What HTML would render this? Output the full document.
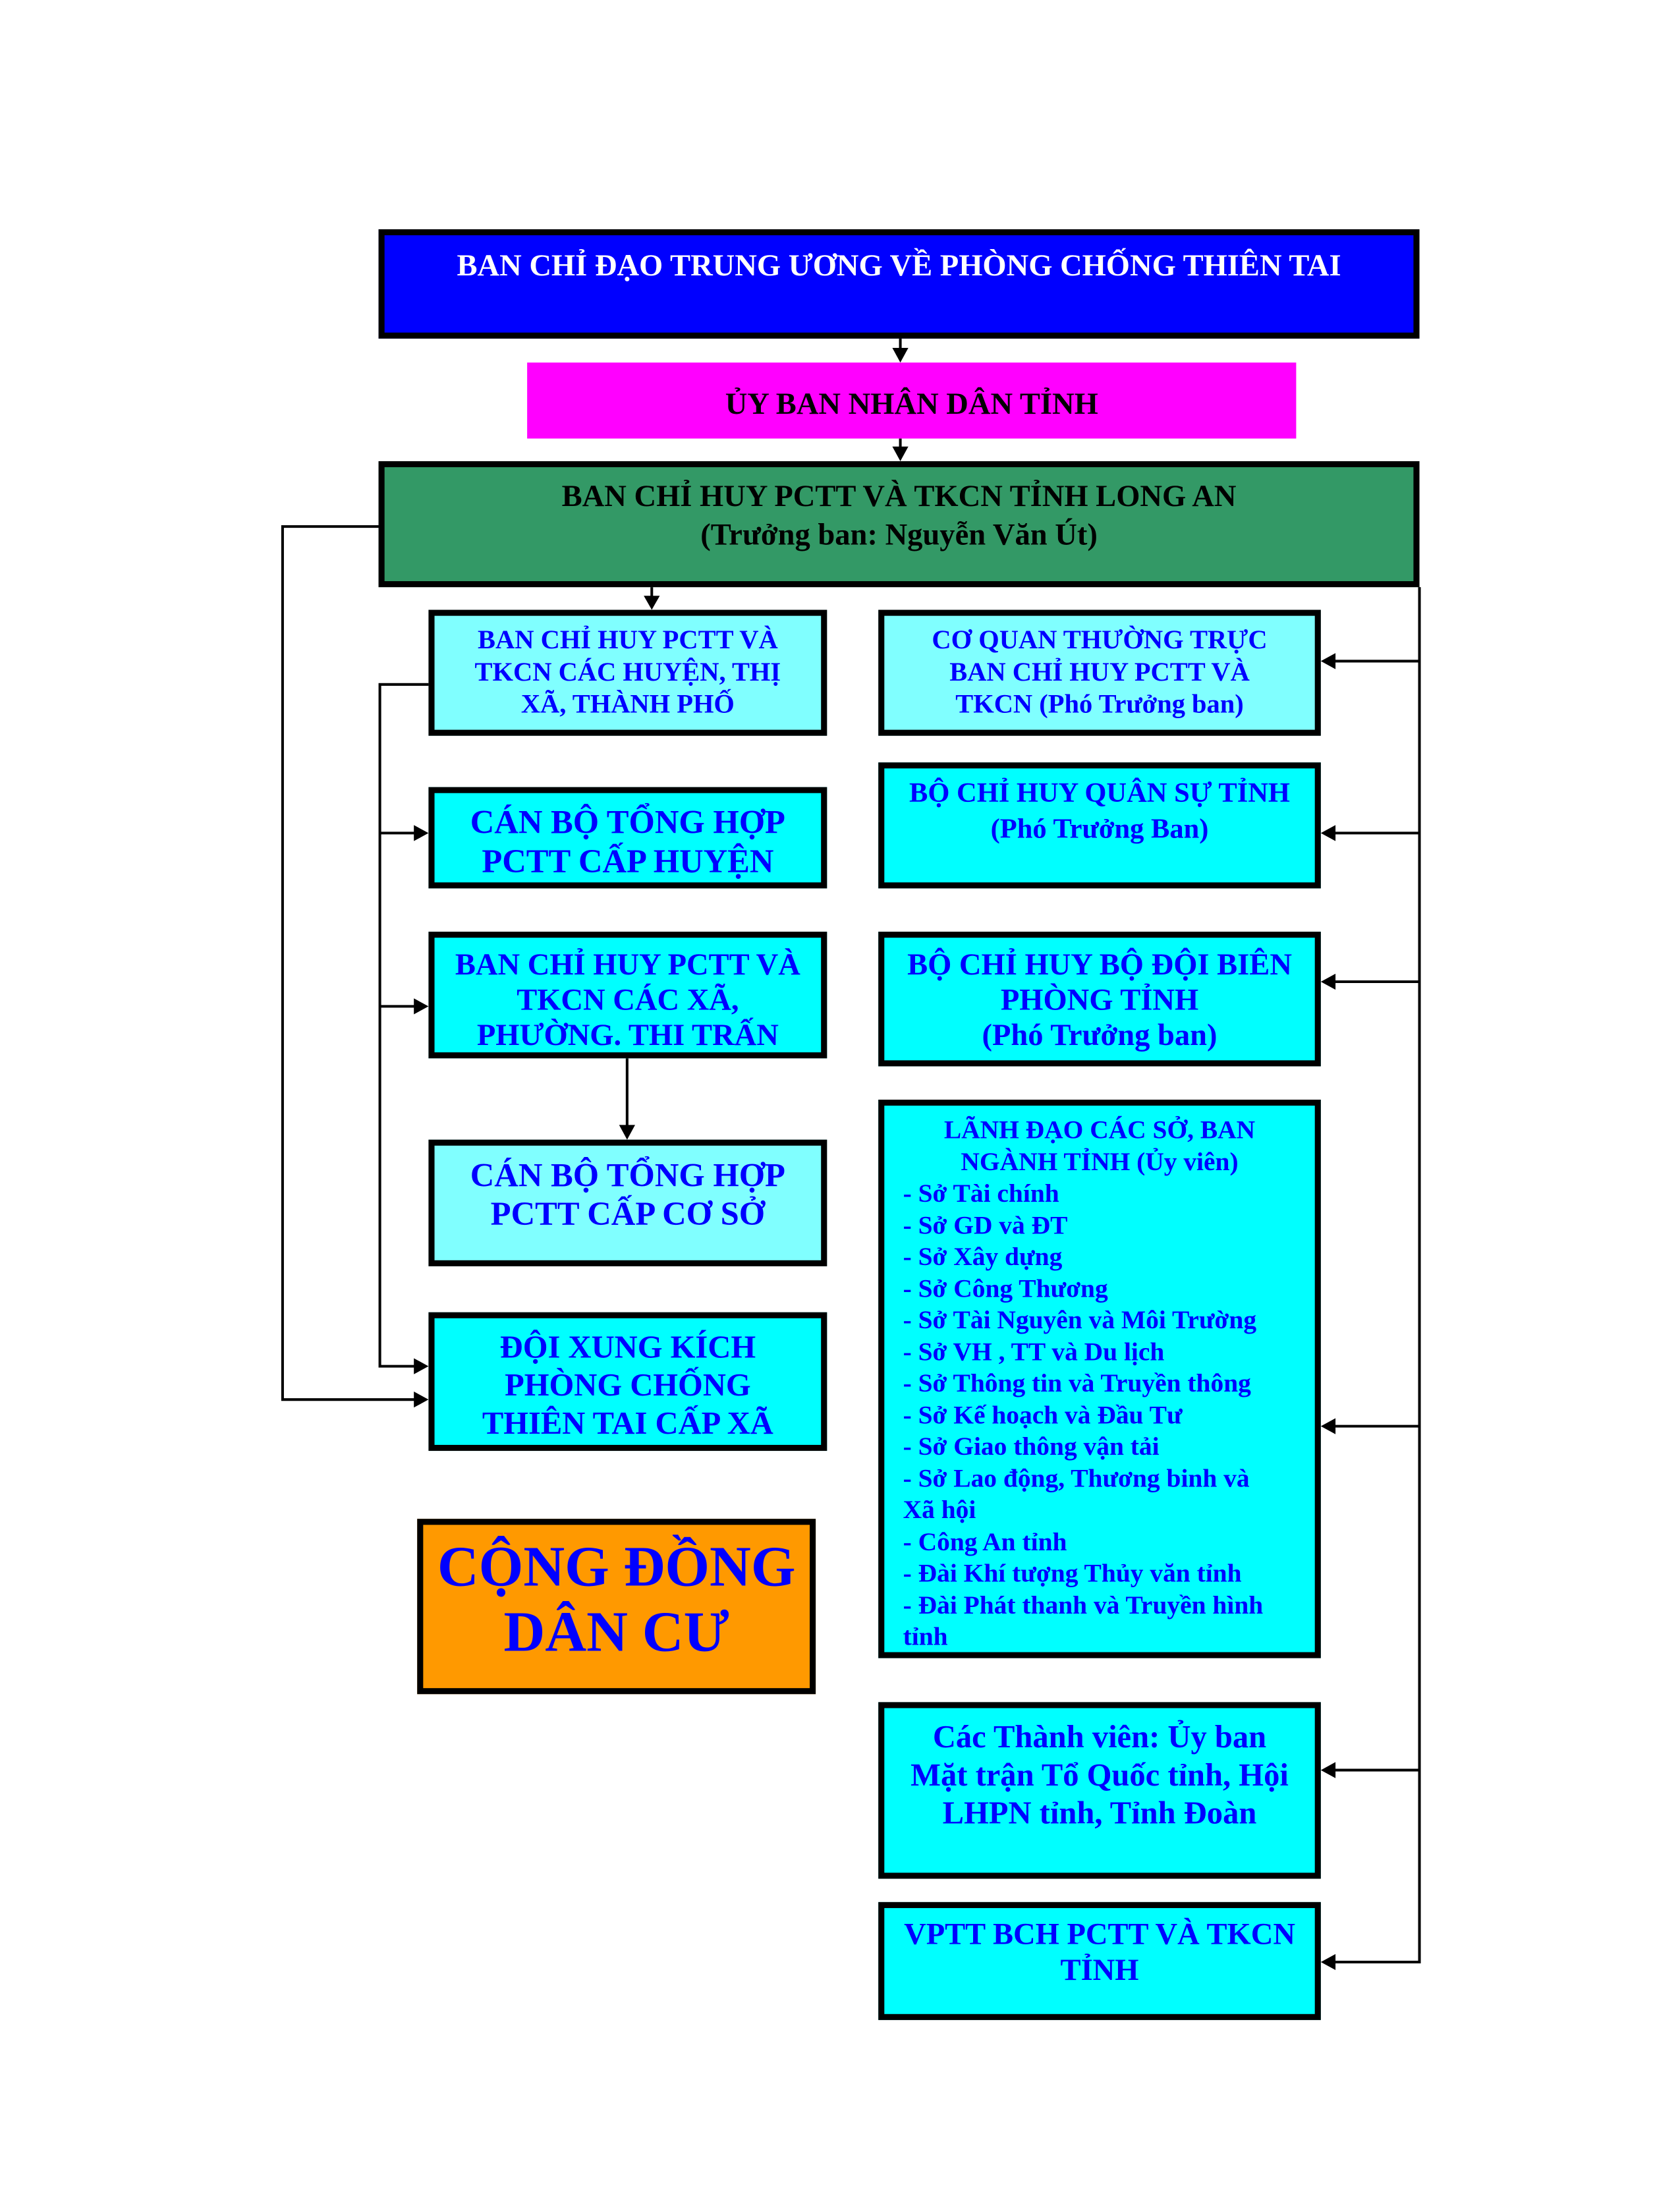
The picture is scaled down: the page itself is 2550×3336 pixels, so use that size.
<!DOCTYPE html>
<html><head><meta charset="utf-8"><style>
body{margin:0;width:2550px;height:3300px;background:#fff;position:relative;overflow:hidden;font-family:"Liberation Serif",serif;font-weight:bold}
#w{position:absolute;left:0;top:0;width:2550px;height:3300px;transform:translate(-3px,-2px) scale(1.0115);transform-origin:0 0}
.b{position:absolute;box-sizing:border-box;border:9px solid #000}
.t{position:absolute;text-align:center;white-space:nowrap;color:#0000ff}
svg{position:absolute;left:0;top:0}
</style></head><body><div id="w">
<svg width="2550" height="3300">
<g stroke="#000" stroke-width="4" fill="none">
<line x1="1354" y1="510" x2="1354" y2="530"/>
<line x1="1354" y1="660" x2="1354" y2="676"/>
<line x1="981" y1="883" x2="981" y2="900"/>
<line x1="944" y1="1590" x2="944" y2="1692"/>
<polyline points="571,792 427,792 427,2102 628,2102"/>
<polyline points="646,1029 573,1029 573,2052 628,2052"/>
<line x1="573" y1="1252" x2="628" y2="1252"/>
<line x1="573" y1="1512" x2="628" y2="1512"/>
<polyline points="2133,883 2133,2946 2005,2946"/>
<line x1="2133" y1="994" x2="2005" y2="994"/>
<line x1="2133" y1="1252" x2="2005" y2="1252"/>
<line x1="2133" y1="1475" x2="2005" y2="1475"/>
<line x1="2133" y1="2142" x2="2005" y2="2142"/>
<line x1="2133" y1="2658" x2="2005" y2="2658"/>
</g>
<g fill="#000">
<polygon points="1342,524 1366,524 1354,546"/>
<polygon points="1342,672 1366,672 1354,694"/>
<polygon points="969,896 993,896 981,917"/>
<polygon points="932,1690 956,1690 944,1712"/>
<polygon points="624,2090 624,2114 646,2102"/>
<polygon points="624,2040 624,2064 646,2052"/>
<polygon points="624,1240 624,1264 646,1252"/>
<polygon points="624,1500 624,1524 646,1512"/>
<polygon points="2007,982 2007,1006 1985,994"/>
<polygon points="2007,1240 2007,1264 1985,1252"/>
<polygon points="2007,1463 2007,1487 1985,1475"/>
<polygon points="2007,2130 2007,2154 1985,2142"/>
<polygon points="2007,2646 2007,2670 1985,2658"/>
<polygon points="2007,2934 2007,2958 1985,2946"/>
</g>
</svg>

<div class="b" style="left:571px;top:346px;width:1562px;height:164px;background:#0000ff"></div>
<div class="t" style="left:571px;top:370px;width:1562px;font-size:46px;line-height:60px;color:#fff">BAN CHỈ ĐẠO TRUNG ƯƠNG VỀ PHÒNG CHỐNG THIÊN TAI</div>

<div class="b" style="left:794px;top:546px;width:1154px;height:114px;background:#ff00ff;border:none"></div>
<div class="t" style="left:794px;top:578px;width:1154px;font-size:46px;line-height:60px;color:#000">ỦY BAN NHÂN DÂN TỈNH</div>

<div class="b" style="left:571px;top:694px;width:1562px;height:189px;background:#339966"></div>
<div class="t" style="left:571px;top:717px;width:1562px;font-size:46px;line-height:58px;color:#000">BAN CHỈ HUY PCTT VÀ TKCN TỈNH LONG AN<br>(Trưởng ban: Nguyễn Văn Út)</div>

<div class="b" style="left:646px;top:917px;width:598px;height:189px;background:#80ffff"></div>
<div class="t" style="left:646px;top:938px;width:598px;font-size:40px;line-height:48px">BAN CHỈ HUY PCTT VÀ<br>TKCN CÁC HUYỆN, THỊ<br>XÃ, THÀNH PHỐ</div>

<div class="b" style="left:646px;top:1183px;width:598px;height:152px;background:#00ffff"></div>
<div class="t" style="left:646px;top:1206px;width:598px;font-size:50px;line-height:59px">CÁN BỘ TỔNG HỢP<br>PCTT CẤP HUYỆN</div>

<div class="b" style="left:646px;top:1400px;width:598px;height:190px;background:#00ffff"></div>
<div class="t" style="left:646px;top:1422px;width:598px;font-size:46px;line-height:53px">BAN CHỈ HUY PCTT VÀ<br>TKCN CÁC XÃ,<br>PHƯỜNG. THI TRẤN</div>

<div class="b" style="left:646px;top:1712px;width:598px;height:190px;background:#80ffff"></div>
<div class="t" style="left:646px;top:1736px;width:598px;font-size:50px;line-height:58px">CÁN BỘ TỔNG HỢP<br>PCTT CẤP CƠ SỞ</div>

<div class="b" style="left:646px;top:1971px;width:598px;height:208px;background:#00ffff"></div>
<div class="t" style="left:646px;top:1995px;width:598px;font-size:48px;line-height:57px">ĐỘI XUNG KÍCH<br>PHÒNG CHỐNG<br>THIÊN TAI CẤP XÃ</div>

<div class="b" style="left:629px;top:2281px;width:598px;height:263px;background:#ff9900"></div>
<div class="t" style="left:629px;top:2303px;width:598px;font-size:86px;line-height:98px">CỘNG ĐỒNG<br>DÂN CƯ</div>

<div class="b" style="left:1321px;top:917px;width:664px;height:189px;background:#80ffff"></div>
<div class="t" style="left:1321px;top:938px;width:664px;font-size:40px;line-height:48px">CƠ QUAN THƯỜNG TRỰC<br>BAN CHỈ HUY PCTT VÀ<br>TKCN (Phó Trưởng ban)</div>

<div class="b" style="left:1321px;top:1146px;width:664px;height:189px;background:#00ffff"></div>
<div class="t" style="left:1321px;top:1165px;width:664px;font-size:42px;line-height:54px">BỘ CHỈ HUY QUÂN SỰ TỈNH<br>(Phó Trưởng Ban)</div>

<div class="b" style="left:1321px;top:1400px;width:664px;height:202px;background:#00ffff"></div>
<div class="t" style="left:1321px;top:1422px;width:664px;font-size:46px;line-height:53px">BỘ CHỈ HUY BỘ ĐỘI BIÊN<br>PHÒNG TỈNH<br>(Phó Trưởng ban)</div>

<div class="b" style="left:1321px;top:1652px;width:664px;height:838px;background:#00ffff"></div>
<div class="t" style="left:1321px;top:1674px;width:664px;font-size:39px;line-height:47.5px">LÃNH ĐẠO CÁC SỞ, BAN<br>NGÀNH TỈNH (Ủy viên)</div>
<div class="t" style="left:1358px;top:1769px;text-align:left;font-size:39px;line-height:47.5px">- Sở Tài chính<br>- Sở GD và ĐT<br>- Sở Xây dựng<br>- Sở Công Thương<br>- Sở Tài Nguyên và Môi Trường<br>- Sở VH , TT và Du lịch<br>- Sở Thông tin và Truyền thông<br>- Sở Kế hoạch và Đầu Tư<br>- Sở Giao thông vận tải<br>- Sở Lao động, Thương binh và<br>Xã hội<br>- Công An tỉnh<br>- Đài Khí tượng Thủy văn tỉnh<br>- Đài Phát thanh và Truyền hình<br>tỉnh</div>

<div class="b" style="left:1321px;top:2556px;width:664px;height:265px;background:#00ffff"></div>
<div class="t" style="left:1321px;top:2580px;width:664px;font-size:48px;line-height:57px">Các Thành viên: Ủy ban<br>Mặt trận Tổ Quốc tỉnh, Hội<br>LHPN tỉnh, Tỉnh Đoàn</div>

<div class="b" style="left:1321px;top:2856px;width:664px;height:177px;background:#00ffff"></div>
<div class="t" style="left:1321px;top:2877px;width:664px;font-size:46px;line-height:54px">VPTT BCH PCTT VÀ TKCN<br>TỈNH</div>
</div></body></html>
